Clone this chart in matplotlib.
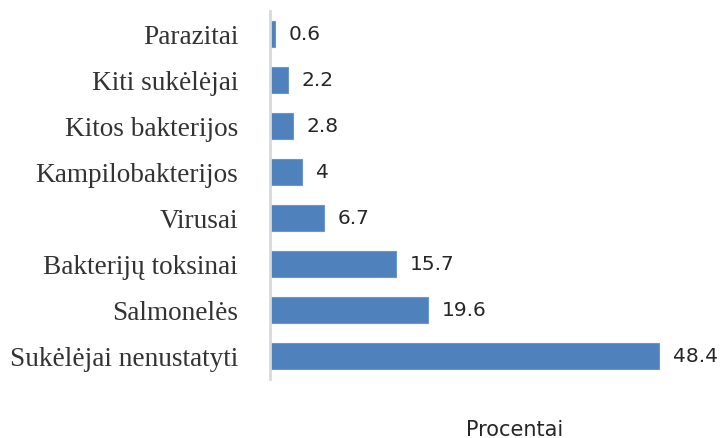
import matplotlib
matplotlib.use("Agg")
import matplotlib.pyplot as plt

categories = ["Parazitai", "Kiti sukėlėjai", "Kitos bakterijos", "Kampilobakterijos",
              "Virusai", "Bakterijų toksinai", "Salmonelės", "Sukėlėjai nenustatyti"]
values = [0.6, 2.2, 2.8, 4, 6.7, 15.7, 19.6, 48.4]
value_labels = ["0.6", "2.2", "2.8", "4", "6.7", "15.7", "19.6", "48.4"]
xlabel = "Procentai"

fig = plt.figure(figsize=(7.21, 4.39), dpi=100)
ax = fig.add_axes([270/721, (439-380)/439, 442/721, 368/439])

ypos = list(range(len(categories)))
bars = ax.barh(ypos, values, height=0.58, color="#4F81BD", edgecolor="#6A97CE", linewidth=0.8)
ax.set_ylim(len(categories) - 0.5, -0.5)
ax.set_xlim(0, 55)
ax.set_yticks(ypos)
ax.set_yticklabels(categories, fontsize=19.6, family="Liberation Serif", color="#333333")
ax.tick_params(axis="y", length=0, pad=23)
ax.set_xticks([])
for s in ["top", "right", "bottom"]:
    ax.spines[s].set_visible(False)
ax.spines["left"].set_color("#D9D9D9")
ax.spines["left"].set_linewidth(2)

for b, lab in zip(bars, value_labels):
    ax.annotate(lab, xy=(b.get_width(), b.get_y() + b.get_height() / 2),
                xytext=(10, 0), textcoords="offset points", va="center", ha="left",
                fontsize=14.5, family="DejaVu Sans", color="#262626")

fig.text(515/721, (439-430)/439, xlabel, ha="center", va="center", fontsize=15,
         family="DejaVu Sans", color="#262626")

fig.savefig("out.png", dpi=100)
